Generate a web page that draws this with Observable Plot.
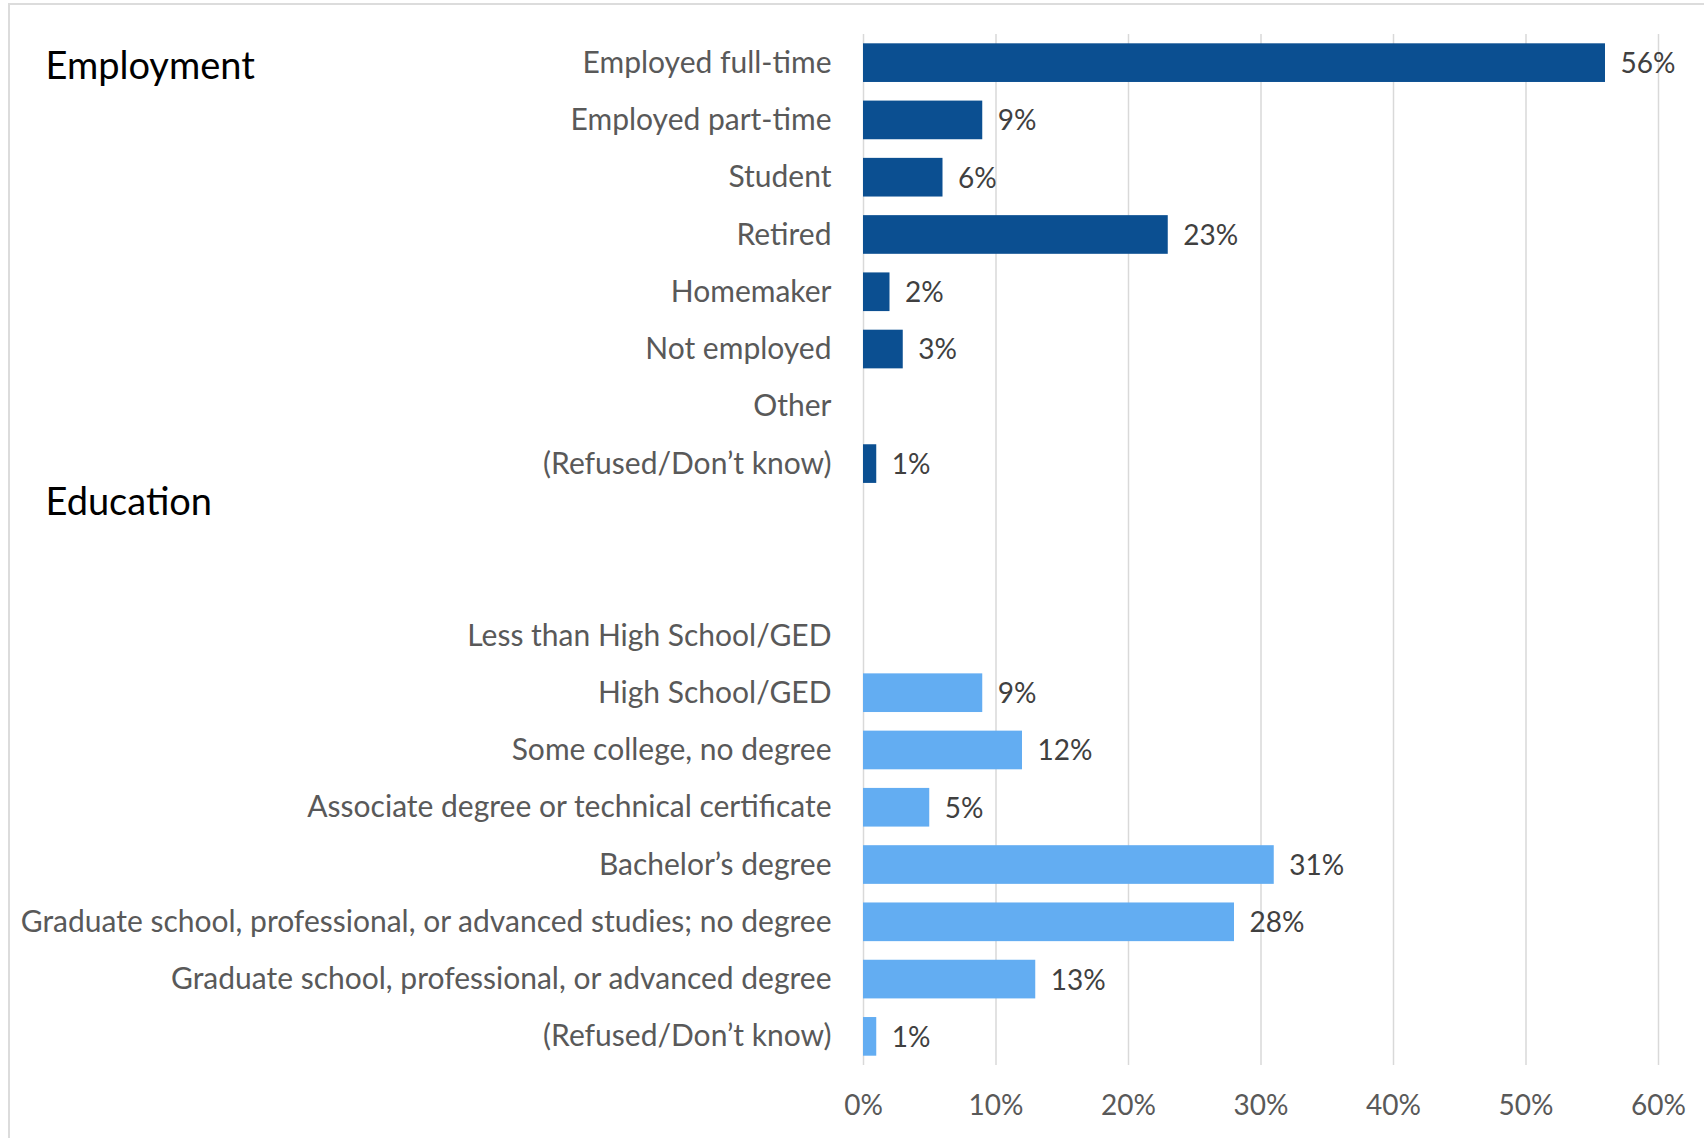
<!DOCTYPE html>
<html>
<head>
<meta charset="utf-8">
<script src="https://cdn.jsdelivr.net/npm/d3@7"></script>
<script src="https://cdn.jsdelivr.net/npm/@observablehq/plot@0.6"></script>
<style>
  html, body { margin: 0; padding: 0; background: #fff; }
  #wrap { position: relative; width: 1704px; height: 1138px; overflow: hidden; }
  #border { position: absolute; left: 8px; top: 3px; width: 1720px; height: 1160px; border: 2px solid #dcdcdc; box-sizing: border-box; }
  #chart { position: absolute; left: 0; top: 0; }
</style>
</head>
<body>
<div id="wrap"><div id="border"></div><div id="chart"></div></div>
<script>
const groupTitles = ["Employment", "Education"];
const employmentCategories = ["Employed full-time", "Employed part-time", "Student", "Retired", "Homemaker", "Not employed", "Other", "(Refused/Don\u2019t know)"];
const employmentValues = [56, 9, 6, 23, 2, 3, null, 1];
const educationCategories = ["Less than High School/GED", "High School/GED", "Some college, no degree", "Associate degree or technical certificate", "Bachelor\u2019s degree", "Graduate school, professional, or advanced studies; no degree", "Graduate school, professional, or advanced degree", "(Refused/Don\u2019t know)"];
const educationValues = [null, 9, 12, 5, 31, 28, 13, 1];
const gapRows = ["gap-0", "gap-1"];
const xTicks = [0, 10, 20, 30, 40, 50, 60];
const groupColors = {Employment: "#0B4F91", Education: "#63ADF2"};

const rows = [];
employmentCategories.forEach((c, i) => rows.push({key: "emp-" + i, label: c, value: employmentValues[i], group: "Employment"}));
gapRows.forEach(g => rows.push({key: g, label: "", value: null, group: null}));
educationCategories.forEach((c, i) => rows.push({key: "edu-" + i, label: c, value: educationValues[i], group: "Education"}));
const labelOf = new Map(rows.map(r => [r.key, r.label]));
const bars = rows.filter(r => r.value != null);

const chart = Plot.plot({
  width: 1704,
  height: 1138,
  marginLeft: 863,
  marginRight: 46,
  marginTop: 34,
  marginBottom: 73,
  style: {fontFamily: "Lato, 'Open Sans', sans-serif", fontSize: "30px", color: "#595959", background: "transparent"},
  x: {domain: [0, 60]},
  y: {domain: rows.map(r => r.key), paddingInner: 0.325, paddingOuter: 0.1625, round: false},
  marks: [
    Plot.ruleX(xTicks, {stroke: "#d9d9d9", strokeWidth: 1.5}),
    Plot.barX(bars, {x: "value", y: "key", fill: d => groupColors[d.group]}),
    Plot.text(bars, {x: "value", y: "key", text: d => d.value + "%", textAnchor: "start", dx: 15, dy: 1, fill: "#404040", fontSize: 28}),
    Plot.axisY({tickSize: 0, tickPadding: 32, tickFormat: k => labelOf.get(k), fontSize: 30, label: null}),
    Plot.axisX({ticks: xTicks, tickSize: 0, tickPadding: 30, tickFormat: d => d + "%", fontSize: 28, label: null}),
    Plot.text([groupTitles[0]], {y: () => "emp-0", text: d => d, frameAnchor: "left", textAnchor: "start", dx: -818, dy: 4, fill: "#000", fontSize: 38}),
    Plot.text([groupTitles[1]], {y: () => "gap-0", text: d => d, frameAnchor: "left", textAnchor: "start", dx: -818, dy: -19, fill: "#000", fontSize: 38})
  ]
});
document.getElementById("chart").appendChild(chart);
</script>
</body>
</html>
